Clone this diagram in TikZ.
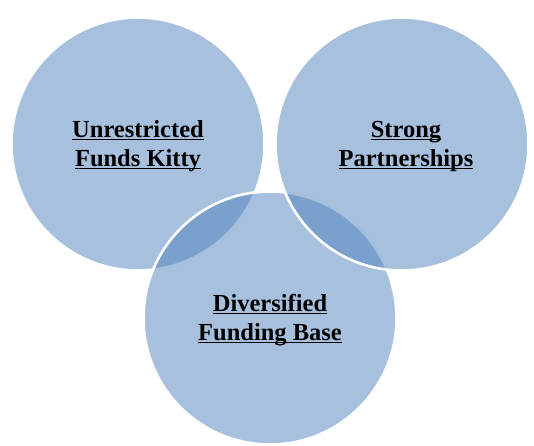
\documentclass[tikz,border=0pt]{standalone}
\usepackage{fontspec}
\setmainfont{Liberation Serif}
\usepackage{tikz}
\definecolor{ringblue}{RGB}{79,129,189}
\newcommand{\ulabel}[1]{\setbox0\hbox{#1}\rlap{\rule[-2.8pt]{\wd0}{1.2pt}}\box0}

\begin{document}
\begin{tikzpicture}
[x=1pt,y=-1pt,
ring/.style={circle,draw=white,line width=2.6pt,fill=ringblue,fill opacity=0.5,draw opacity=1,text opacity=1,minimum size=253pt,inner sep=0pt},
caption/.style={align=center,font=\bfseries\fontsize{24.5}{29}\selectfont,text=black}]
\useasboundingbox (0,0) rectangle (534,445);
\node[ring] (funds) at (138,144) {};
\node[ring] (base) at (270,318) {};
\node[ring] (partner) at (402,144) {};

\node[caption] (fundstext) at (138,146) {\ulabel{Unrestricted}\\\ulabel{Funds Kitty}};
\node[caption] (partnertext) at (406,146) {\ulabel{Strong}\\\ulabel{Partnerships}};
\node[caption] (basetext) at (270,320) {\ulabel{Diversified}\\\ulabel{Funding Base}};
\end{tikzpicture}
\end{document}
